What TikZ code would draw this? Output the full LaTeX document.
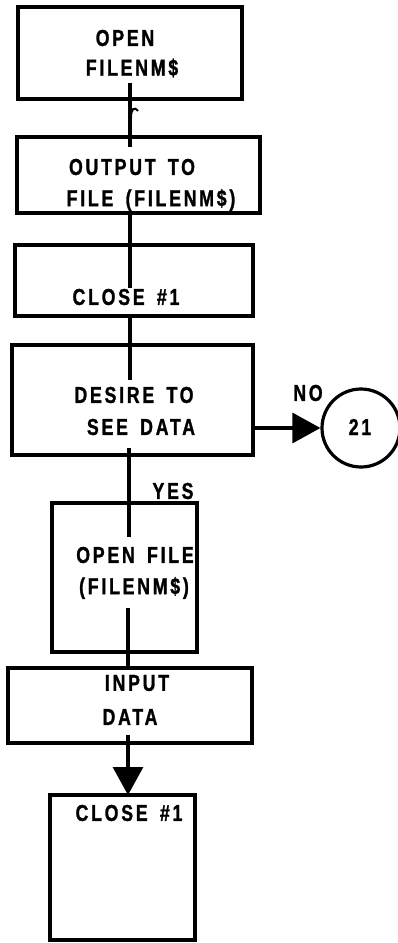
\documentclass[tikz,border=0pt]{standalone}
\usepackage{fontspec}
\setmainfont{Liberation Sans}[BoldFont={Liberation Sans Bold}, BoldFeatures={FakeBold=1.2}, FakeStretch=0.77, LetterSpace=12, WordSpace=1.6]
\usetikzlibrary{arrows.meta}

\tikzset{
  chart/.style={x={(1pt,0)}, y={(0,-1pt)}},
  box/.style={draw, line width=3.2pt, rectangle, inner sep=0pt, outer sep=0pt, anchor=north west},
  conn/.style={draw, line width=3.2pt},
  lbl/.style={inner sep=0pt, font=\fontsize{23}{27}\selectfont\bfseries},
  bigtip/.style={-{Triangle[length=28pt,width=30pt]}}
}

\begin{document}
\begin{tikzpicture}[chart]
\useasboundingbox (0,0) rectangle (398,943);

% process boxes
\node[box, minimum width=224pt, minimum height=92pt]  (b1) at (18,7)   {};
\node[box, minimum width=243pt, minimum height=76pt]  (b2) at (17,137) {};
\node[box, minimum width=238pt, minimum height=71pt]  (b3) at (15,245) {};
\node[box, minimum width=241pt, minimum height=110pt] (b4) at (12,345) {};
\node[box, minimum width=145pt, minimum height=149pt] (b5) at (52,503) {};
\node[box, minimum width=244pt, minimum height=75pt]  (b6) at (8,668)  {};
\node[box, minimum width=145pt, minimum height=145pt] (b7) at (50,795) {};

% off-page connector
\node[draw, circle, line width=3.2pt, minimum size=78pt, inner sep=0pt] (c21) at (361,428) {};

% box texts
\node[lbl] (t1a) at (125,38)  {OPEN};
\node[lbl] (t1b) at (132,68)  {FILENM\$};
\node[lbl] (t2a) at (132,167) {OUTPUT TO};
\node[lbl] (t2b) at (151,200) {FILE (FILENM\$)};
\node[lbl] (t3)  at (126,297) {CLOSE \#1};
\node[lbl] (t4a) at (134,395) {DESIRE TO};
\node[lbl] (t4b) at (141,427) {SEE DATA};
\node[lbl] (t5a) at (135,555) {OPEN FILE};
\node[lbl] (t5b) at (134,588) {(FILENM\$)};
\node[lbl] (t6a) at (137,683) {INPUT};
\node[lbl] (t6b) at (130,717) {DATA};
\node[lbl] (t7)  at (129,813) {CLOSE \#1};
\node[lbl] (t21) at (360,427) {21};
\node[lbl] (tno)  at (308,393) {NO};
\node[lbl] (tyes) at (173,491) {YES};

% connector end points inside the boxes
\coordinate (s1) at (130,83);
\coordinate (e1) at (130,147);
\coordinate (s2) at (130,213);
\coordinate (e2) at (130,288);
\coordinate (s3) at (130,315);
\coordinate (e3) at (130,380);
\coordinate (s4) at (129,448);
\coordinate (e4) at (129,537);
\coordinate (s5) at (128,608);
\coordinate (s6) at (128,735);

% flow lines
\draw[conn] (s1) -- (e1);
\draw[conn, line width=2pt] (131,118) .. controls (131,109) and (134,106) .. (138,111);
\draw[conn] (s2) -- (e2);
\draw[conn] (s3) -- (e3);
\draw[conn] (s4) -- (e4);
\draw[conn] (s5) -- (b6.north -| s5);
\draw[conn, bigtip] (s6) -- (b7.north -| s6);
\draw[conn, bigtip] (b4.east |- c21) -- (c21.west);
\end{tikzpicture}
\end{document}
